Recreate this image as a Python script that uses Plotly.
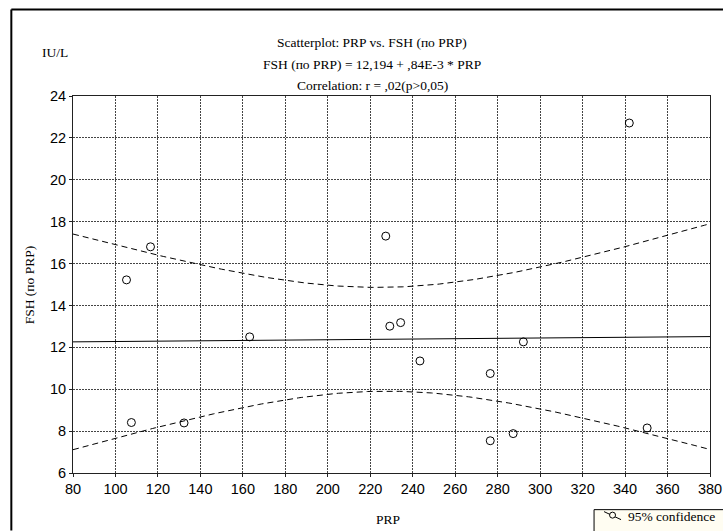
import numpy as np
import plotly.graph_objects as go

# Observations: PRP vs FSH (по PRP), IU/L
prp = [105.2, 107.5, 116.5, 132.3, 163.2, 227.3, 229.2, 234.3, 243.4,
       276.5, 276.5, 287.3, 292.1, 342.0, 350.4]
fsh = [15.22, 8.41, 16.8, 8.39, 12.5, 17.31, 13.01, 13.18, 11.35,
       10.75, 7.54, 7.88, 12.26, 22.71, 8.15]

# Fitted line as reported: FSH = 12,194 + ,84E-3 * PRP
intercept = 12.194
slope = 0.84e-3
t_crit = 2.1604  # t(0.975, df = 13)

x_ticks = list(range(80, 381, 20))
y_ticks = list(range(6, 25, 2))

W, H = 723, 531
L, R, T, B = 72.7, 13, 95.7, 57.7
PW, PH = W - L - R, H - T - B


def px(xp):
    return (xp - L) / PW


def py(yp):
    return (H - B - yp) / PH


x = np.array(prp)
y = np.array(fsh)
n = len(x)
xbar = x.mean()
sxx = ((x - xbar) ** 2).sum()
s = np.sqrt(((y - (intercept + slope * x)) ** 2).sum() / (n - 2))

xs = np.linspace(80, 380, 241)
yhat = intercept + slope * xs
half = t_crit * s * np.sqrt(1.0 / n + (xs - xbar) ** 2 / sxx)

fig = go.Figure()
fig.add_trace(go.Scatter(x=xs, y=yhat, mode="lines",
                         line=dict(color="black", width=1), hoverinfo="skip"))
fig.add_trace(go.Scatter(x=xs, y=yhat + half, mode="lines",
                         line=dict(color="black", width=1, dash="6px,4px"), hoverinfo="skip"))
fig.add_trace(go.Scatter(x=xs, y=yhat - half, mode="lines",
                         line=dict(color="black", width=1, dash="6px,4px"), hoverinfo="skip"))
fig.add_trace(go.Scatter(x=prp, y=fsh, mode="markers",
                         marker=dict(symbol="circle-open", size=8, color="black",
                                     line=dict(width=1, color="black"))))

serif = '"Liberation Serif", "Times New Roman", serif'
sans = '"Liberation Sans", Arial, sans-serif'

axis_common = dict(
    showgrid=True, gridcolor="#444", griddash="2px,1px", gridwidth=1,
    showline=True, linecolor="#222", linewidth=1, mirror=True,
    ticks="outside", ticklen=3, tickcolor="#222",
    tickfont=dict(family=sans, size=14.5, color="black"),
    zeroline=False, automargin=False,
)

fig.update_layout(
    width=W, height=H, autosize=False,
    margin=dict(l=L, r=R, t=T, b=B, pad=0, autoexpand=False),
    paper_bgcolor="white", plot_bgcolor="white",
    showlegend=False,
    xaxis=dict(range=[80, 380], tickvals=x_ticks, **axis_common),
    yaxis=dict(range=[6, 24], tickvals=y_ticks, **axis_common),
)

anns = [
    ("Scatterplot: PRP vs. FSH (по PRP)", 372, 42),
    ("FSH (по PRP) = 12,194 + ,84E-3 * PRP", 372, 64),
    ("Correlation: r = ,02(p>0,05)", 372, 85),
]
for txt, ax_, ay_ in anns:
    fig.add_annotation(text=txt, x=px(ax_), y=py(ay_), xref="paper", yref="paper",
                       showarrow=False, xanchor="center", yanchor="middle",
                       font=dict(family=serif, size=13.5, color="black"))

fig.add_annotation(text="IU/L", x=px(40), y=py(52), xref="paper", yref="paper",
                   showarrow=False, xanchor="left", yanchor="middle",
                   font=dict(family=serif, size=13.5, color="black"))
fig.add_annotation(text="FSH (по PRP)", x=px(30), y=py(285), xref="paper", yref="paper",
                   showarrow=False, xanchor="center", yanchor="middle", textangle=-90,
                   font=dict(family=serif, size=13.5, color="black"))
fig.add_annotation(text="PRP", x=px(388), y=py(520), xref="paper", yref="paper",
                   showarrow=False, xanchor="center", yanchor="middle",
                   font=dict(family=serif, size=13.5, color="black"))

# outer frame (left and top edges; it runs past the page on the right and bottom)
fig.add_shape(type="line", xref="paper", yref="paper",
              x0=px(11), x1=px(723), y0=py(9), y1=py(9),
              line=dict(color="black", width=2))
fig.add_shape(type="line", xref="paper", yref="paper",
              x0=px(11), x1=px(11), y0=py(9), y1=py(531),
              line=dict(color="black", width=2))

# legend box
fig.add_shape(type="rect", xref="paper", yref="paper",
              x0=px(594), x1=px(740), y0=py(510), y1=py(545),
              line=dict(color="black", width=1), fillcolor="#fffdf2")
fig.add_shape(type="line", xref="paper", yref="paper",
              x0=px(604), y0=py(512), x1=px(621), y1=py(520),
              line=dict(color="black", width=1))
fig.add_shape(type="circle", xref="paper", yref="paper",
              x0=px(609.5), x1=px(615.5), y0=py(512.5), y1=py(518.5),
              line=dict(color="black", width=1), fillcolor="#fffdf2")
fig.add_annotation(text="95% confidence", x=px(626), y=py(517), xref="paper", yref="paper",
                   showarrow=False, xanchor="left", yanchor="middle",
                   font=dict(family=serif, size=13.5, color="black"))

fig.write_html("out.html", config={"responsive": False},
               default_width="723px", default_height="531px")
